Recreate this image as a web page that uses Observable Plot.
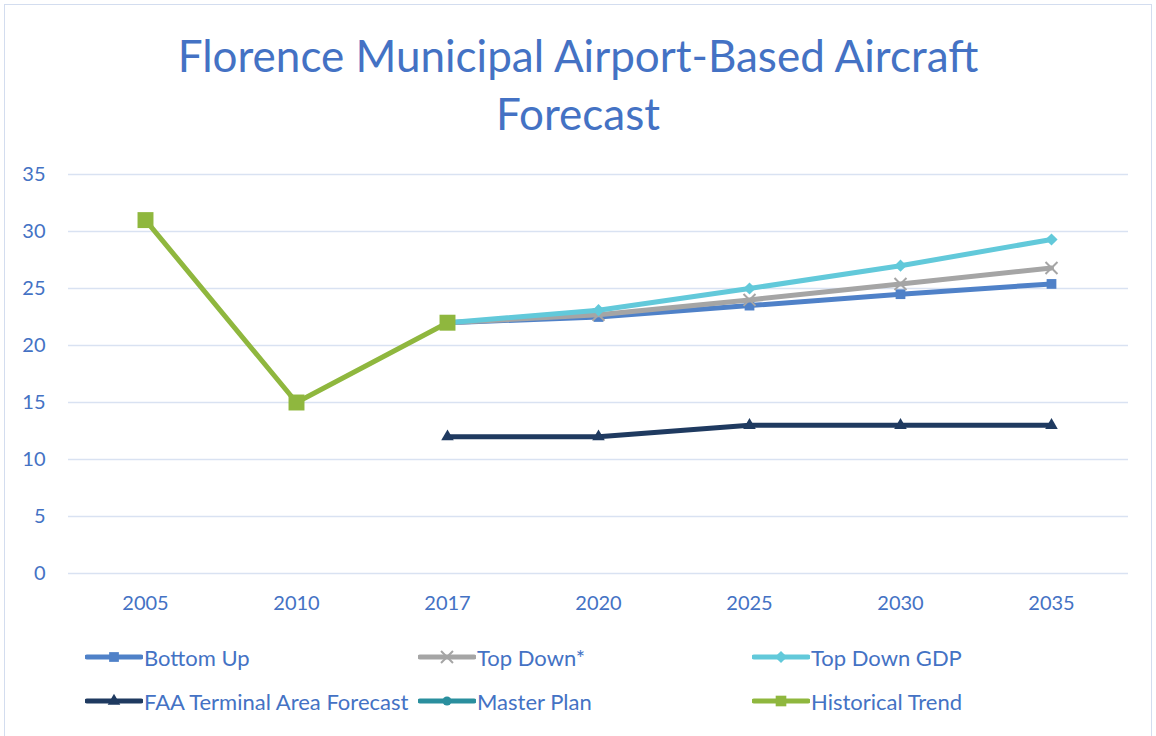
<!DOCTYPE html>
<html>
<head>
<meta charset="utf-8">
<script src="https://cdn.jsdelivr.net/npm/d3@7"></script>
<script src="https://cdn.jsdelivr.net/npm/@observablehq/plot@0.6"></script>
<style>
  html, body { margin: 0; padding: 0; background: #fff; }
  #wrap { position: relative; width: 1156px; height: 736px; overflow: hidden; font-family: Lato, "Open Sans", sans-serif; }
  #frame { position: absolute; left: 4px; top: 4px; width: 1148px; height: 740px; border: 1.5px solid #d3ddef; box-sizing: border-box; }
  #title { position: absolute; left: 0; width: 1156px; top: 26px; text-align: center; color: #4472c4; font-size: 44px; line-height: 58px; }
  #chart { position: absolute; left: 0; top: 160px; }
  .leg { position: absolute; display: flex; align-items: center; color: #4472c4; font-size: 22px; }
  .leg svg { margin-right: 1px; }
</style>
</head>
<body>
<div id="wrap">
  <div id="frame"></div>
  <div id="title">Florence Municipal Airport-Based Aircraft<br>Forecast</div>
  <div id="chart"></div>
  <div id="legend"></div>
</div>
<script>
const years = ["2005", "2010", "2017", "2020", "2025", "2030", "2035"];
const bottomUp    = [null, null, 22, 22.5, 23.5, 24.5, 25.4];
const topDown     = [null, null, 22, 22.7, 24.0, 25.4, 26.8];
const topDownGDP  = [null, null, 22, 23.1, 25.0, 27.0, 29.3];
const faaTAF      = [null, null, 12, 12, 13, 13, 13];
const masterPlan  = [null, null, null, null, null, null, null];
const historical  = [31, 15, 22, null, null, null, null];
const yTicks = [0, 5, 10, 15, 20, 25, 30, 35];

const series = [
  {name: "Bottom Up", values: bottomUp, color: "#4f81c8", symbol: "square", r: 5.5, width: 5},
  {name: "Top Down*", values: topDown, color: "#a5a5a5", symbol: "times", r: 5.5, width: 5},
  {name: "Top Down GDP", values: topDownGDP, color: "#62c9da", symbol: "diamond2", r: 5.5, width: 5},
  {name: "FAA Terminal Area Forecast", values: faaTAF, color: "#1f3a60", symbol: "triangle2", r: 6, width: 5},
  {name: "Master Plan", values: masterPlan, color: "#2a8f9e", symbol: "circle", r: 4.5, width: 5},
  {name: "Historical Trend", values: historical, color: "#8fb73e", symbol: "square", r: 9, width: 5}
];

const marks = [
  Plot.ruleY(yTicks, {stroke: "#d9e2f2", strokeWidth: 1.5}),
  Plot.axisY({ticks: yTicks, tickSize: 0, tickPadding: 23, fontSize: 20, color: "#4472c4", anchor: "left"}),
  Plot.axisX({tickSize: 0, tickPadding: 22, fontSize: 20, color: "#4472c4", anchor: "bottom"})
];
for (const s of series) {
  const data = years.map((y, i) => ({year: y, value: s.values[i]})).filter(d => d.value != null);
  if (!data.length) continue;
  marks.push(Plot.line(data, {x: "year", y: "value", stroke: s.color, strokeWidth: s.width, strokeLinejoin: "round"}));
  if (s.symbol === "times") {
    marks.push(Plot.dot(data, {x: "year", y: "value", symbol: "times", r: s.r, stroke: s.color, strokeWidth: 2}));
  } else {
    marks.push(Plot.dot(data, {x: "year", y: "value", symbol: s.symbol, r: s.r, fill: s.color, stroke: "none"}));
  }
}

const chart = Plot.plot({
  width: 1156,
  height: 460,
  marginLeft: 68,
  marginRight: 28,
  marginTop: 14,
  marginBottom: 47,
  style: {fontFamily: "Lato, 'Open Sans', sans-serif", background: "transparent", overflow: "visible"},
  x: {type: "point", domain: years, padding: 0.5, label: null},
  y: {domain: [0, 35], label: null},
  marks
});
document.getElementById("chart").appendChild(chart);

// legend
const legPos = [
  [85, 657], [418, 657], [752, 657],
  [85, 701], [418, 701], [752, 701]
];
const legend = document.getElementById("legend");
series.forEach((s, i) => {
  const el = document.createElement("div");
  el.className = "leg";
  el.style.left = legPos[i][0] + "px";
  el.style.top = (legPos[i][1] - 13) + "px";
  el.style.height = "26px";
  const sym = d3.symbol(
    {square: d3.symbolSquare, times: d3.symbolTimes, diamond2: d3.symbolDiamond2, triangle2: d3.symbolTriangle2, circle: d3.symbolCircle}[s.symbol],
    Math.PI * Math.min(s.r, 6) ** 2
  )();
  const svg = d3.create("svg").attr("width", 58).attr("height", 26);
  svg.append("line").attr("x1", 2).attr("x2", 56).attr("y1", 13).attr("y2", 13)
    .attr("stroke", s.color).attr("stroke-width", s.width).attr("stroke-linecap", "round");
  const p = svg.append("path").attr("d", sym).attr("transform", "translate(29,13)");
  if (s.symbol === "times") p.attr("stroke", s.color).attr("stroke-width", 2).attr("fill", "none");
  else p.attr("fill", s.color);
  el.appendChild(svg.node());
  const t = document.createElement("span");
  t.textContent = s.name;
  el.appendChild(t);
  legend.appendChild(el);
});
</script>
</body>
</html>
